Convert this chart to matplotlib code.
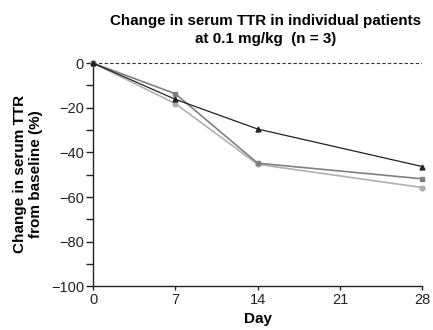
import matplotlib.pyplot as plt
from matplotlib.ticker import MultipleLocator

plt.rcParams['font.family'] = ['Liberation Sans', 'DejaVu Sans']

days = [0, 7, 14, 28]
pt_triangle = [0, -16.2, -29.5, -46.3]
pt_square = [0, -13.7, -44.8, -51.8]
pt_circle = [0, -18.1, -45.3, -55.7]

fig = plt.figure(figsize=(4.33, 3.30), dpi=100)
ax = fig.add_axes([0.215, 0.132, 0.76, 0.68])

ax.axhline(0, color='#333333', linestyle=(0, (3, 2)), linewidth=0.8, zorder=1)

ax.plot(days, pt_circle, color='#b0b0b0', marker='o', markersize=3.5, linewidth=1.2, clip_on=False, zorder=3)
ax.plot(days, pt_square, color='#808080', marker='s', markersize=3.5, linewidth=1.2, clip_on=False, zorder=4)
ax.plot(days, pt_triangle, color='#222222', marker='^', markersize=3.5, linewidth=0.9, clip_on=False, zorder=5)

ax.set_xlim(0, 28)
ax.set_ylim(-100, 0.5)
ax.set_xticks([0, 7, 14, 21, 28])
ax.set_yticks([0, -20, -40, -60, -80, -100])
ax.yaxis.set_minor_locator(MultipleLocator(10))
ax.set_yticklabels(['0', '\u221220', '\u221240', '\u221260', '\u221280', '\u2212100'])

for s in ['top', 'right']:
    ax.spines[s].set_visible(False)
for s in ['left', 'bottom']:
    ax.spines[s].set_linewidth(1.0)
    ax.spines[s].set_color('#222222')

ax.tick_params(axis='both', which='major', labelsize=10.5, colors='#222222', width=1.0)
ax.tick_params(axis='x', which='major', length=3, pad=1.5)
ax.tick_params(axis='y', which='both', length=5, width=1.0, pad=1.5, colors='#222222')

ax.set_xlabel('Day', fontsize=11, fontweight='bold', labelpad=4)
ax.set_ylabel('Change in serum TTR\nfrom baseline (%)', fontsize=11, fontweight='bold', labelpad=6, linespacing=1.15)
ax.set_title('Change in serum TTR in individual patients\nat 0.1 mg/kg  (n = 3)', fontsize=10.9, fontweight='bold', pad=14, linespacing=1.35, x=0.525)

fig.savefig('out.png', dpi=100)
